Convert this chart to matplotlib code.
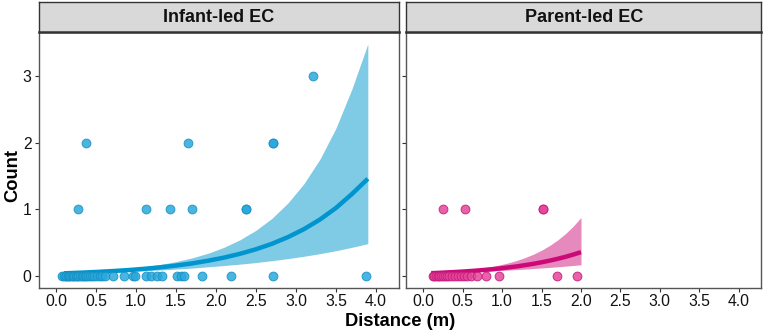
import numpy as np
import matplotlib
matplotlib.use('Agg')
import matplotlib.pyplot as plt

plt.rcParams['font.family'] = ['Liberation Sans', 'DejaVu Sans']

# panel titles
panels = ['Infant-led EC', 'Parent-led EC']

# observed points (distance in m, count)
infant_x = [0.08, 0.10, 0.12, 0.13, 0.15, 0.16, 0.18, 0.20, 0.21, 0.23, 0.25, 0.26,
            0.28, 0.30, 0.32, 0.34, 0.36, 0.38, 0.40, 0.43, 0.45, 0.48, 0.51, 0.55,
            0.58, 0.61, 0.71, 0.85, 0.96, 0.99, 1.13, 1.19, 1.26, 1.32, 1.51, 1.56,
            1.60, 1.82, 2.19, 2.71, 3.88,
            0.27, 1.13, 1.43, 1.70, 2.37, 2.37,
            0.37, 1.65, 2.71, 2.71,
            3.21]
infant_y = [0] * 41 + [1] * 6 + [2] * 4 + [3]

parent_x = [0.12, 0.14, 0.16, 0.18, 0.20, 0.22, 0.25, 0.28, 0.30, 0.33, 0.36, 0.40,
            0.44, 0.48, 0.52, 0.55, 0.60, 0.68, 0.79, 0.96, 1.69, 1.95,
            0.25, 0.53, 1.52, 1.52]
parent_y = [0] * 22 + [1] * 4

# fitted curve + ribbon
infant_fx = [0.1, 0.3, 0.5, 0.7, 0.9, 1.1, 1.3, 1.5, 1.7, 1.9, 2.1, 2.3, 2.5, 2.7,
             2.9, 3.1, 3.3, 3.5, 3.7, 3.9]
infant_fit = [0.043, 0.052, 0.063, 0.076, 0.091, 0.110, 0.132, 0.159, 0.191, 0.231,
              0.278, 0.335, 0.403, 0.485, 0.585, 0.704, 0.848, 1.021, 1.230, 1.460]
infant_hi = [0.055, 0.065, 0.078, 0.094, 0.114, 0.141, 0.175, 0.218, 0.273, 0.343,
             0.432, 0.545, 0.687, 0.866, 1.096, 1.385, 1.751, 2.215, 2.803, 3.480]
infant_lo = [0.031, 0.039, 0.048, 0.058, 0.068, 0.080, 0.092, 0.106, 0.121, 0.140,
             0.159, 0.180, 0.204, 0.232, 0.263, 0.298, 0.337, 0.381, 0.432, 0.487]

parent_fx = [0.1, 0.2, 0.3, 0.4, 0.5, 0.6, 0.7, 0.8, 0.9, 1.0, 1.1, 1.2, 1.3, 1.4,
             1.5, 1.6, 1.7, 1.8, 1.9, 2.0]
parent_fit = [0.045, 0.050, 0.056, 0.062, 0.069, 0.077, 0.086, 0.096, 0.107, 0.120,
              0.134, 0.149, 0.167, 0.186, 0.208, 0.232, 0.259, 0.289, 0.323, 0.360]
parent_hi = [0.063, 0.068, 0.074, 0.081, 0.090, 0.101, 0.115, 0.132, 0.152, 0.177,
             0.206, 0.241, 0.283, 0.331, 0.389, 0.458, 0.538, 0.634, 0.747, 0.880]
parent_lo = [0.033, 0.038, 0.044, 0.049, 0.055, 0.062, 0.068, 0.074, 0.080, 0.086,
             0.093, 0.100, 0.107, 0.115, 0.123, 0.131, 0.140, 0.150, 0.160, 0.171]

xticks = [0.0, 0.5, 1.0, 1.5, 2.0, 2.5, 3.0, 3.5, 4.0]
yticks = [0, 1, 2, 3]

blue = dict(pt='#29A9DD', edge='#1590C4', line='#0095CF', band='#7FCAE5')
pink = dict(pt='#E2479A', edge='#C8177A', line='#CC0A77', band='#E689BD')

W, H = 767, 335
fig = plt.figure(figsize=(W / 100, H / 100), dpi=100)

panel_left = [38.5, 406]
panel_w = [360.5, 355.5]
top_px, bot_px, strip_top = 32, 287.5, 2

series = [
    (infant_x, infant_y, infant_fx, infant_fit, infant_lo, infant_hi, blue),
    (parent_x, parent_y, parent_fx, parent_fit, parent_lo, parent_hi, pink),
]

for i, (px, py, fx, fit, lo, hi, c) in enumerate(series):
    l = panel_left[i] / W
    w = panel_w[i] / W
    b = 1 - bot_px / H
    h = (bot_px - top_px) / H
    ax = fig.add_axes([l, b, w, h])
    ax.fill_between(fx, lo, hi, color=c['band'], lw=0, zorder=1)
    ax.plot(fx, fit, color=c['line'], lw=3.2, solid_capstyle='butt', zorder=2)
    ax.scatter(px, py, s=40, color=c['pt'], edgecolors=c['edge'], linewidths=0.7,
               alpha=0.85, zorder=3)
    ax.set_xlim(-0.22, 4.29)
    ax.set_ylim(-0.17, 3.66)
    ax.set_xticks(xticks)
    ax.set_xticklabels([f'{t:.1f}' for t in xticks])
    ax.set_yticks(yticks)
    if i == 0:
        ax.set_yticklabels([str(t) for t in yticks])
    else:
        ax.set_yticklabels([])
        ax.tick_params(axis='y', length=0)
    ax.tick_params(direction='out', length=3, width=0.8, color='#333333',
                   labelsize=11.3, labelcolor='#111111', pad=2)
    for s in ax.spines.values():
        s.set_color('#555555')
        s.set_linewidth(1.0)

    # facet strip
    sax = fig.add_axes([l, 1 - top_px / H, w, (top_px - strip_top) / H])
    sax.set_facecolor('#D9D9D9')
    sax.set_xticks([])
    sax.set_yticks([])
    for s in sax.spines.values():
        s.set_color('#333333')
        s.set_linewidth(1.0)
    sax.spines['bottom'].set_linewidth(1.8)
    sax.text(0.5, 0.5, panels[i], ha='center', va='center', fontsize=13,
             fontweight='bold', color='#111111', transform=sax.transAxes)

fig.text(400 / W, 1 - 321 / H, 'Distance (m)', ha='center', va='center',
         fontsize=13.2, fontweight='bold')
fig.text(13 / W, 1 - 176 / H, 'Count', ha='center', va='center', rotation=90,
         fontsize=13.2, fontweight='bold')

fig.savefig('out.png', dpi=100)
